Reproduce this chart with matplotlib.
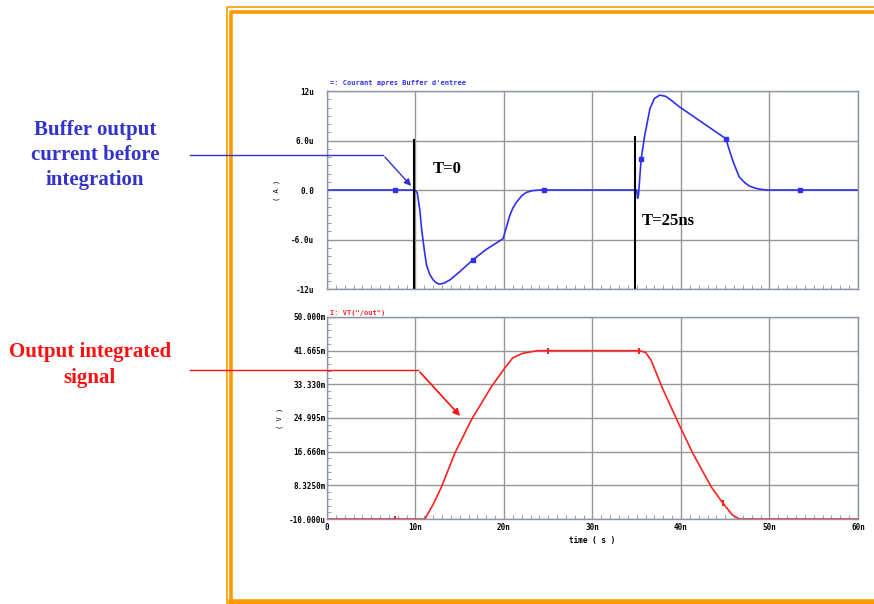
import matplotlib.pyplot as plt
from matplotlib.lines import Line2D
from matplotlib.patches import FancyArrowPatch

# buffer output current (time in ns, current in uA)
cur_t = [0, 9.9, 10.2, 10.5, 10.7, 11.0, 11.25, 11.6, 12.0, 12.4, 12.75, 13.2, 13.9,
         15.0, 16.5, 18.0, 19.9, 20.2, 20.65, 21.0, 21.4, 22.0, 22.5, 23.2, 24.0,
         35.0, 35.1, 35.2, 35.5, 35.9, 36.5, 37.0, 37.6, 38.3, 39.0, 39.8, 41.7,
         43.6, 45.1, 45.3, 45.9, 46.6, 47.2, 47.7, 48.3, 48.9, 49.5, 50.0, 60.0]
cur_v = [0, 0, -0.3, -2.5, -4.8, -7.3, -9.1, -10.2, -10.9, -11.3, -11.4, -11.3, -10.9,
         -9.9, -8.45, -7.2, -5.9, -4.8, -3.1, -2.2, -1.5, -0.7, -0.3, -0.08, 0,
         0, -1.0, -0.6, 3.8, 6.6, 9.9, 11.1, 11.5, 11.35, 10.8, 10.1, 8.7,
         7.3, 6.2, 5.4, 3.4, 1.55, 0.9, 0.5, 0.25, 0.1, 0.02, 0, 0]
cur_mark_t = [7.7, 16.5, 24.5, 35.5, 45.1, 53.5]
cur_mark_v = [0, -8.45, 0, 3.8, 6.2, 0]

# integrated output voltage (time in ns, voltage in mV)
out_t = [0, 10.8, 11.06, 12.0, 12.95, 14.45, 16.33, 18.6, 20.1, 21.0, 22.1, 23.8,
         35.3, 36.0, 36.6, 37.9, 39.8, 41.3, 43.4, 44.7, 45.8, 46.6, 60.0]
out_v = [-0.01, -0.01, 0, 3.6, 8.0, 16.3, 24.6, 32.8, 37.4, 39.9, 41.0, 41.665,
         41.665, 41.2, 39.4, 32.4, 23.3, 16.4, 8.0, 4.0, 1.0, -0.01, -0.01]
out_mark_t = [7.7, 25.0, 35.3, 44.7]
out_mark_v = [0, 41.665, 41.665, 4.0]

x_ticks = [0, 10, 20, 30, 40, 50, 60]
x_labels = ["0", "10n", "20n", "30n", "40n", "50n", "60n"]
cur_ticks = [-12, -6, 0, 6, 12]
cur_labels = ["-12u", "-6.0u", "0.0", "6.0u", "12u"]
out_ticks = [-0.01, 8.325, 16.66, 24.995, 33.33, 41.665, 50.0]
out_labels = ["-10.000u", "8.3250m", "16.660m", "24.995m", "33.330m", "41.665m", "50.000m"]

W, H = 874, 604
BLUE = "#2f2ff0"
RED = "#ff2020"
ORANGE = "#ff9900"
mono = dict(family="DejaVu Sans Mono", fontsize=5.5, fontweight="bold")


def px(x, y):
    return x / W, 1 - y / H


fig = plt.figure(figsize=(W / 100, H / 100), dpi=100)

# orange slide frame
for xs, ys, lw in [([227, 227, 880], [610, 6.5, 6.5], 1.2),
                   ([231, 231, 880], [610, 11.5, 11.5], 2.6),
                   ([231, 880], [601.5, 601.5], 4.0)]:
    fig.add_artist(Line2D([x / W for x in xs], [1 - y / H for y in ys],
                          color=ORANGE, lw=lw, transform=fig.transFigure))

ax1 = fig.add_axes([0.3741, 0.5215, 0.6076, 0.3278])
ax2 = fig.add_axes([0.3741, 0.1407, 0.6076, 0.3345])


def style(ax, yticks, ylabels, pad):
    ax.set_xlim(0, 60)
    ax.set_xticks(x_ticks)
    ax.set_xticks(range(0, 61), minor=True)
    ax.set_yticks(yticks)
    ax.set_yticklabels(ylabels, **mono)
    ax.grid(True, which="major", color="#9a968f", lw=1.0)
    ax.tick_params(which="both", direction="in", colors="#7f8fa8", length=3,
                   top=False, right=False)
    ax.tick_params(which="major", length=0)
    ax.tick_params(axis="y", pad=pad, labelcolor="black")
    for s in ax.spines.values():
        s.set_color("#8a94a8")
        s.set_linewidth(1.0)


style(ax1, cur_ticks, cur_labels, 9)
ax1.set_ylim(-12, 12)
ax1.set_yticks(range(-12, 13), minor=True)
ax1.set_xticklabels([])
ax1.plot(cur_t, cur_v, color=BLUE, lw=1.2)
ax1.plot(cur_mark_t, cur_mark_v, ls="none", marker="s", ms=2.5, color=BLUE)
ax1.vlines([9.8, 34.8], -12, [6.2, 6.6], color="black", lw=1.5)
ax1.text(0.005, 1.03, "=: Courant apres Buffer d'entree", transform=ax1.transAxes,
         color=BLUE, fontsize=5, family="DejaVu Sans Mono", fontweight="bold")
ax1.text(13.6, 2.6, "T=0", family="Liberation Serif", fontweight="bold", fontsize=12,
         ha="center", va="center")
ax1.text(35.6, -3.7, "T=25ns", family="Liberation Serif", fontweight="bold", fontsize=12,
         ha="left", va="center")
ax1.set_ylabel("( A )", fontsize=5, family="DejaVu Sans Mono", labelpad=8)

style(ax2, out_ticks, out_labels, 1)
ax2.set_ylim(-0.01, 50)
ax2.set_yticks([-0.01 + 8.335 * k / 5 for k in range(31)], minor=True)
ax2.set_xticklabels(x_labels, **mono)
ax2.tick_params(axis="x", pad=3, labelcolor="black")
ax2.plot(out_t, out_v, color=RED, lw=1.2)
ax2.plot(out_mark_t, out_mark_v, ls="none", marker="|", ms=5, mew=1.5, color=RED)
ax2.text(0.005, 1.01, 'I: VT("/out")', transform=ax2.transAxes,
         color=RED, fontsize=5, family="DejaVu Sans Mono", fontweight="bold")
ax2.set_ylabel("( V )", fontsize=5, family="DejaVu Sans Mono", labelpad=4)
ax2.set_xlabel("time ( s )", fontsize=5.5, family="DejaVu Sans Mono", fontweight="bold",
               labelpad=3)

# side annotations
serif = dict(family="Liberation Serif", fontweight="bold", fontsize=15,
             ha="center", va="center", linespacing=1.35)
fig.text(*px(95, 155), "Buffer output\ncurrent before\nintegration", color="#3333cc", **serif)
fig.text(*px(90, 365), "Output integrated\nsignal", color="#ff1010", **serif)

fig.add_artist(Line2D([190 / W, 383 / W], [1 - 155 / H] * 2, color="#3333cc", lw=1,
                      transform=fig.transFigure))
fig.add_artist(FancyArrowPatch(px(383, 155), px(413, 188), transform=fig.transFigure,
                               arrowstyle="-|>", mutation_scale=10, color="#3333cc", lw=1))
fig.add_artist(Line2D([190 / W, 418 / W], [1 - 370 / H] * 2, color="#ff1010", lw=1,
                      transform=fig.transFigure))
fig.add_artist(FancyArrowPatch(px(418, 370), px(462, 418), transform=fig.transFigure,
                               arrowstyle="-|>", mutation_scale=10, color="#ff1010", lw=1.2))

fig.savefig("out.png", dpi=100)
